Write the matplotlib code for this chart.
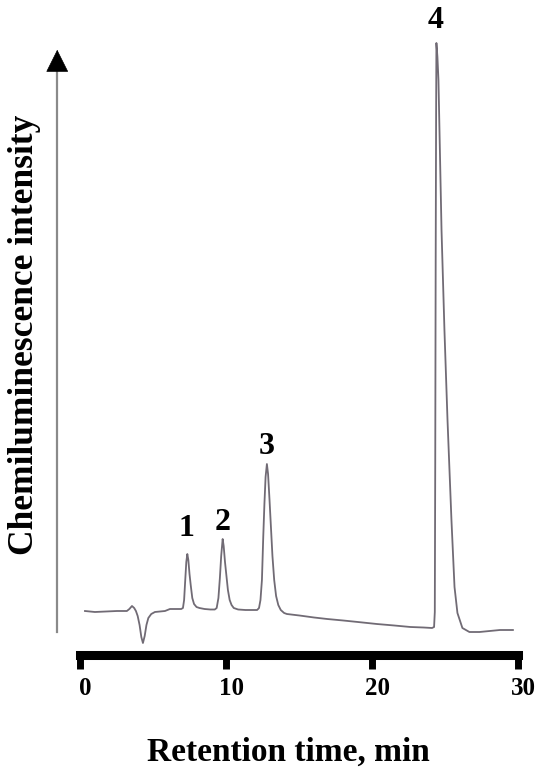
"""
Chemiluminescence chromatogram: four peaks, retention time on x.
"""

import matplotlib.pyplot as plt
import matplotlib.transforms as mtransforms

# trace: retention time (min) and signal (arb. units)
time = [0.31, 0.99, 2.50, 3.18, 3.35, 3.53, 3.68, 3.80, 3.92, 4.05, 4.17, 4.28,
        4.40, 4.52, 4.65, 4.85, 5.10, 5.79, 6.13, 6.61,
        6.90, 7.02, 7.10, 7.17, 7.25, 7.32, 7.39, 7.47, 7.56, 7.66, 7.78, 7.95,
        8.15, 8.50, 8.90,
        9.20, 9.33, 9.45, 9.55, 9.64, 9.74, 9.81, 9.90, 10.00, 10.10, 10.22,
        10.35, 10.50, 10.80, 11.30, 11.80,
        12.10, 12.23, 12.33, 12.43, 12.52, 12.60, 12.68, 12.77, 12.85, 12.95,
        13.05, 13.15, 13.27, 13.40, 13.55, 13.72, 13.95,
        14.14, 15.0, 16.0, 16.9, 18.0, 19.0, 20.3, 21.5, 22.6, 23.5, 24.08,
        24.22, 24.27, 24.30, 24.33, 24.36, 24.38, 24.45, 24.52, 24.73, 24.93,
        25.14, 25.41, 25.62, 25.82, 26.16, 26.64, 27.33, 28.73, 29.62]
signal = [1, 0, 1, 1, 3, 6, 4, 1, -4, -13, -25, -31,
          -24, -13, -6, -2, 0, 1, 3, 3,
          3, 4, 12, 30, 50, 58, 52, 38, 26, 14, 8, 5,
          4, 3, 2.5,
          2.5, 4, 14, 34, 56, 73, 66, 50, 36, 22, 12,
          7, 4, 2.5, 2, 2,
          2, 4, 12, 32, 75, 108, 135, 148, 138, 112,
          84, 56, 32, 16, 7, 2, -1,
          -2, -3.5, -5.5, -7, -8.5, -10, -12, -13.5, -15, -15.5, -16,
          -15, 0, 150, 350, 500, 569, 555, 532, 382, 282,
          192, 92, 25, -1, -16, -20, -20, -18, -18]

peak_names = ["1", "2", "3", "4"]
peak_x = [7.29, 9.76, 12.77, 24.35]
peak_y = [84, 89, 165, 592]

xticks = [0, 10, 20, 30]

serif = "Liberation Serif"

fig = plt.figure(figsize=(5.49, 7.72), dpi=100)
ax = fig.add_axes([40 / 549, 72 / 772, 490 / 549, 700 / 772])
ax.set_xlim(-2.77, 30.79)
ax.set_ylim(-88, 612)

ax.plot(time, signal, color="#716b75", lw=1.3)

for name, x, y in zip(peak_names, peak_x, peak_y):
    ax.text(x, y, name, ha="center", va="center", fontsize=23,
            fontweight="bold", family=serif)

# thick black time axis with heavy ticks
for side in ["top", "right", "left"]:
    ax.spines[side].set_visible(False)
ax.spines["bottom"].set_position(("data", -43))
ax.spines["bottom"].set_linewidth(6.5)
ax.spines["bottom"].set_bounds(0, 30)
ax.set_xticks(xticks)
ax.set_xticklabels([str(t) for t in xticks], fontsize=18, fontweight="bold",
                   family=serif)
ax.tick_params(axis="x", direction="out", length=10, width=5, pad=6)
shift = mtransforms.ScaledTranslation(5 / 100, 0, fig.dpi_scale_trans)
for lab in ax.get_xticklabels():
    lab.set_transform(lab.get_transform() + shift)
ax.set_yticks([])

# gray intensity arrow with black head
ax.plot([-1.59, -1.59], [-20, 548], color="#8a8a8a", lw=1.6, clip_on=False)
ax.annotate("", xy=(-1.59, 565), xytext=(-1.59, 540),
            arrowprops=dict(arrowstyle="-|>,head_length=1.5,head_width=0.75",
                            color="black", lw=0.5, mutation_scale=10),
            annotation_clip=False)

ax.set_xlabel("Retention time, min", fontsize=24, fontweight="bold", family=serif)
ax.xaxis.label.set_va("center")
ax.xaxis.set_label_coords(0.506, -0.074)
ax.set_ylabel("Chemiluminescence intensity", fontsize=25.5, fontweight="bold",
              family=serif)
ax.yaxis.label.set_va("center")
ax.yaxis.set_label_coords(-0.031, 0.521)

fig.savefig("out.png", dpi=100)
